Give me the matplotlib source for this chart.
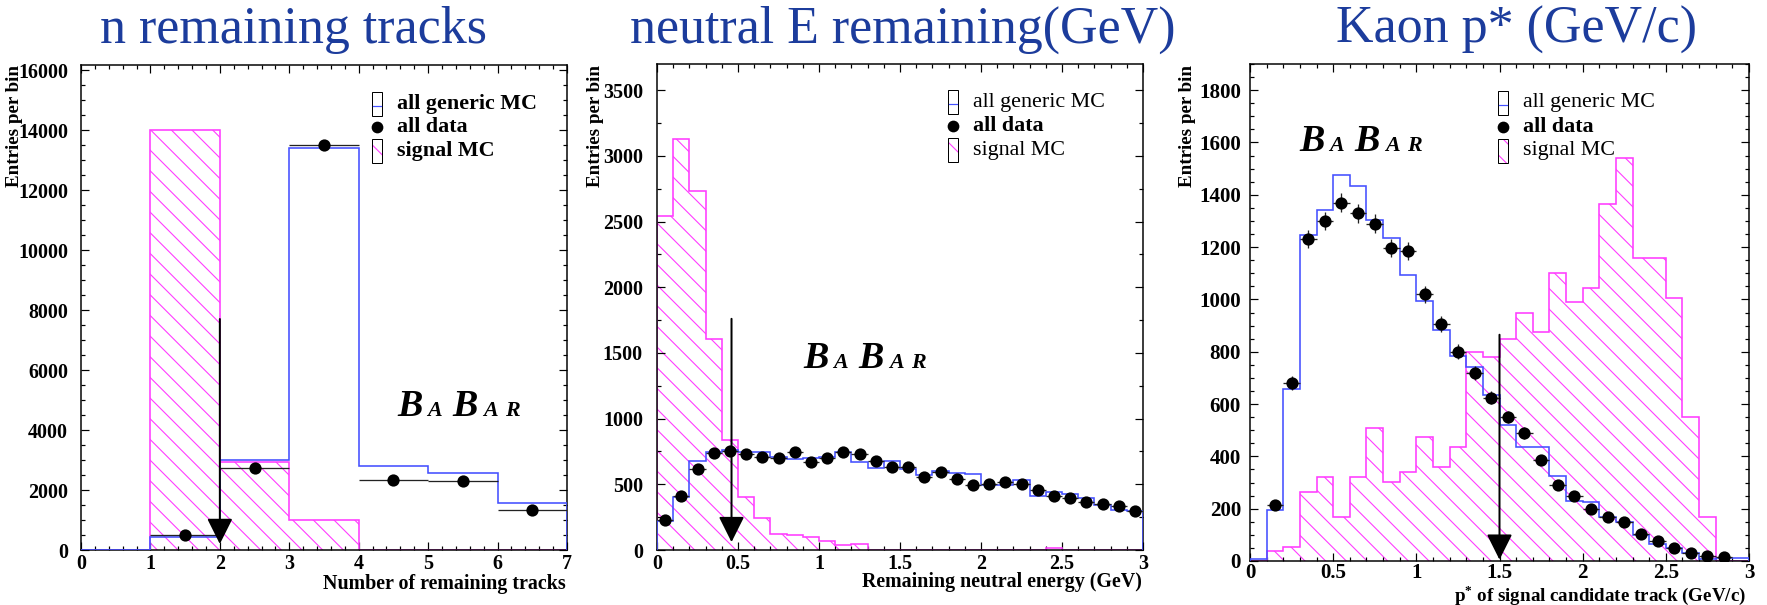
"""Selection variables for the signal search: number of remaining tracks,
remaining neutral energy and kaon candidate momentum p* in the CM frame.
Each panel overlays generic MC, data and (hatched) signal MC."""
import numpy as np
import matplotlib
matplotlib.use('Agg')
import matplotlib.pyplot as plt
from matplotlib.patches import Rectangle
from matplotlib.lines import Line2D
from matplotlib.ticker import MultipleLocator, FuncFormatter

W, H = 1767, 605
DPI = 124

BLUE = '#4450ff'
MAGENTA = '#ff3cff'
TITLE_BLUE = '#1c3c9c'

# n remaining tracks
TRK_EDGES = [0, 1, 2, 3, 4, 5, 6, 7]
TRK_GENERIC = [0, 450, 3000, 13400, 2800, 2570, 1560]
TRK_SIGNAL = [0, 14000, 2950, 1000, 15, 15, 15]
TRK_DATA_X = [1.5, 2.5, 3.5, 4.5, 5.5, 6.5]
TRK_DATA = [500, 2750, 13500, 2330, 2300, 1330]

# remaining neutral energy, 0.1 GeV bins
NEU_EDGES = np.round(np.arange(31) * 0.1, 2)
NEU_GENERIC = [220, 404, 676, 745, 765, 743, 743, 708, 689, 703,
               708, 743, 673, 627, 681, 614, 573, 600, 587, 579,
               493, 498, 533, 412, 444, 425, 398, 345, 304, 299]
NEU_SIGNAL = [2540, 3130, 2730, 1610, 835, 404, 245, 123, 116, 98,
              65, 40, 47, 0, 0, 0, 0, 0, 0, 0,
              0, 0, 0, 0, 12, 0, 0, 0, 0, 0]
NEU_DATA_X = np.round(NEU_EDGES[:-1] + 0.05, 2)
NEU_DATA = [230, 410, 620, 735, 756, 730, 708, 703, 743, 668,
            703, 743, 730, 681, 633, 633, 552, 595, 541, 498,
            506, 514, 506, 458, 412, 398, 363, 350, 336, 296]

# kaon p*, 0.1 GeV/c bins
KP_EDGES = np.round(np.arange(31) * 0.1, 2)
KP_GENERIC = [8, 194, 658, 1245, 1340, 1475, 1435, 1305, 1235, 1095,
              995, 885, 785, 740, 635, 520, 435, 435, 325, 230,
              225, 170, 150, 100, 65, 50, 30, 8, 10, 12]
KP_SIGNAL = [0, 37, 55, 264, 320, 170, 320, 510, 301, 340,
             473, 358, 435, 800, 780, 850, 950, 875, 1100, 990,
             1045, 1365, 1540, 1160, 1160, 1005, 550, 170, 0, 0]
KP_DATA_X = np.round(np.arange(28) * 0.1 + 0.15, 2)
KP_DATA = [213, 680, 1230, 1300, 1370, 1330, 1290, 1195, 1185, 1020,
           905, 800, 720, 625, 550, 490, 385, 290, 250, 200,
           170, 150, 105, 75, 50, 30, 20, 15]


def pt(px):
    """Pixels at the output resolution -> points."""
    return px * 72.0 / DPI


def fx(x):
    return x / W


def fy(y):
    return 1.0 - y / H


plt.rcParams['font.family'] = ['Liberation Serif', 'DejaVu Serif']
plt.rcParams['font.weight'] = 'bold'
plt.rcParams['mathtext.fontset'] = 'custom'
plt.rcParams['mathtext.rm'] = 'Liberation Serif:bold'
plt.rcParams['hatch.linewidth'] = pt(1.1)

fig = plt.figure(figsize=(W / DPI, H / DPI), dpi=DPI)
fig.patch.set_facecolor('white')


def make_axes(left, top, right, bottom):
    return fig.add_axes([fx(left), fy(bottom), (right - left) / W, (bottom - top) / H])


def style_axes(ax, xlim, ylim, xmajor, xminor, ymajor, yminor, ypad, xpad, size):
    ax.set_xlim(*xlim)
    ax.set_ylim(*ylim)
    ax.xaxis.set_major_locator(MultipleLocator(xmajor))
    ax.xaxis.set_minor_locator(MultipleLocator(xminor))
    ax.yaxis.set_major_locator(MultipleLocator(ymajor))
    ax.yaxis.set_minor_locator(MultipleLocator(yminor))
    ax.xaxis.set_major_formatter(FuncFormatter(lambda v, p: '%g' % v))
    ax.yaxis.set_major_formatter(FuncFormatter(lambda v, p: '%d' % v))
    ax.tick_params(which='both', direction='in', top=True, right=True,
                   width=pt(1.2), labelsize=pt(size))
    ax.tick_params(which='major', length=pt(8))
    ax.tick_params(which='minor', length=pt(4))
    ax.tick_params(axis='y', pad=pt(ypad))
    ax.tick_params(axis='x', pad=pt(xpad))
    for s in ax.spines.values():
        s.set_linewidth(pt(1.5))


def draw_hists(ax, edges, generic, signal, data_x, data, xerr):
    widths = np.diff(edges)
    ax.bar(edges[:-1], signal, width=widths, align='edge', fill=False,
           hatch='\\\\', edgecolor=MAGENTA, linewidth=0, zorder=1)
    ax.stairs(signal, edges, color=MAGENTA, linewidth=pt(1.6), zorder=2)
    ax.stairs(generic, edges, color=BLUE, linewidth=pt(1.6), zorder=3)
    data = np.asarray(data, dtype=float)
    ax.errorbar(data_x, data, xerr=xerr, yerr=np.sqrt(data), fmt='o',
                color='black', ecolor='#222222', ms=pt(10.5),
                elinewidth=pt(1.3), capsize=0, zorder=4)


def draw_cut(ax, x, top, tip):
    ax.annotate('', xy=(x, tip), xytext=(x, top),
                arrowprops=dict(arrowstyle='-|>,head_length=1.0,head_width=0.5',
                                mutation_scale=pt(22), color='black',
                                lw=pt(2.0), shrinkA=0, shrinkB=0),
                zorder=5)


def draw_babar(x, base):
    # B big, A small, B big, A R small
    letters = [('B', 0, 38), ('A', 30, 22), ('B', 55, 38), ('A', 86, 22), ('R', 108, 22)]
    for ch, dx, size in letters:
        fig.text(fx(x + dx), fy(base), ch, fontsize=pt(size), style='italic',
                 fontweight='bold', ha='left', va='baseline')


def draw_key(key_x, text_x, rows, bold):
    labels = ['all generic MC', 'all data', 'signal MC']
    for i, (y, lab) in enumerate(zip(rows, labels)):
        if i == 0:
            fig.add_artist(Rectangle((fx(key_x), fy(y + 12)), 10 / W, 24 / H,
                                     transform=fig.transFigure, facecolor='white',
                                     edgecolor='black', linewidth=pt(1.0)))
            fig.add_artist(Line2D([fx(key_x + 1), fx(key_x + 9)], [fy(y + 2), fy(y + 2)],
                                  transform=fig.transFigure, color=BLUE, lw=pt(1.2)))
        elif i == 1:
            fig.add_artist(Line2D([fx(key_x + 5)], [fy(y)], transform=fig.transFigure,
                                  marker='o', ms=pt(10), color='black', ls='none'))
        else:
            fig.add_artist(Rectangle((fx(key_x), fy(y + 12)), 10 / W, 24 / H,
                                     transform=fig.transFigure, facecolor='white',
                                     hatch='\\\\', edgecolor=MAGENTA, linewidth=0))
            fig.add_artist(Rectangle((fx(key_x), fy(y + 12)), 10 / W, 24 / H,
                                     transform=fig.transFigure, fill=False,
                                     edgecolor='black', linewidth=pt(1.0)))
        fig.text(fx(text_x), fy(y), lab, fontsize=pt(22),
                 fontweight='bold' if bold[i] else 'normal', ha='left', va='center')


def side_labels(xlabel, xl_right, xl_y, yl_x, size=20):
    fig.text(fx(xl_right), fy(xl_y), xlabel, fontsize=pt(size), fontweight='bold',
             ha='right', va='center')
    fig.text(fx(yl_x), fy(65), 'Entries per bin', fontsize=pt(19), fontweight='bold',
             rotation=90, ha='center', va='top')


# panel 1: number of remaining tracks
ax1 = make_axes(81, 65, 567, 550)
draw_hists(ax1, TRK_EDGES, TRK_GENERIC, TRK_SIGNAL, TRK_DATA_X, TRK_DATA, 0.5)
style_axes(ax1, (0, 7), (0, 16170), 1, 0.2, 2000, 500, 13, 4, 20)
draw_cut(ax1, 2, 7700, 200)
draw_babar(397, 416)
draw_key(372, 397, [104, 127, 151], [True, True, True])
side_labels('Number of remaining tracks', 566, 584, 15)

# panel 2: remaining neutral energy
ax2 = make_axes(657, 64, 1143, 550)
draw_hists(ax2, NEU_EDGES, NEU_GENERIC, NEU_SIGNAL, NEU_DATA_X, NEU_DATA, 0.05)
style_axes(ax2, (0, 3), (0, 3700), 0.5, 0.1, 500, 250, 14, 4, 20)
draw_cut(ax2, 0.46, 1760, 60)
draw_babar(803, 368)
draw_key(948, 973, [102, 126, 150], [False, True, False])
side_labels('Remaining neutral energy (GeV)', 1142, 582, 595)

# panel 3: kaon p*
ax3 = make_axes(1250, 64, 1749, 561)
draw_hists(ax3, KP_EDGES, KP_GENERIC, KP_SIGNAL, KP_DATA_X, KP_DATA, 0.05)
style_axes(ax3, (0, 3), (0, 1900), 0.5, 0.1, 200, 50, 9, 2, 21)
draw_cut(ax3, 1.5, 865, 5)
draw_babar(1299, 151)
draw_key(1498, 1523, [103, 127, 151], [False, True, False])
side_labels(r'p$^{*}$ of signal candidate track (GeV/c)', 1746, 595, 1187, size=19)

# page titles
for text, xc in [('n remaining tracks', 293), ('neutral E remaining(GeV)', 903),
                 ('Kaon p* (GeV/c)', 1517)]:
    fig.text(fx(xc), fy(43), text, fontsize=pt(52), fontweight='normal',
             color=TITLE_BLUE, ha='center', va='baseline')

fig.savefig('out.png', dpi=DPI, facecolor='white')
